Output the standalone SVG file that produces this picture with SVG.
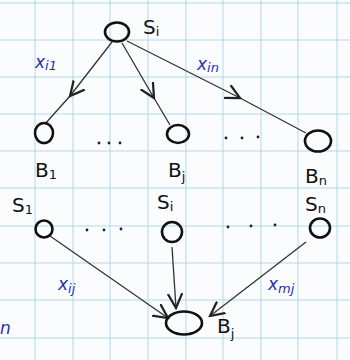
<svg xmlns="http://www.w3.org/2000/svg" width="350" height="360" viewBox="0 0 350 360">
<style>
.grid line{stroke:#b4d8ea;stroke-width:1}
.node{fill:none;stroke:#111;stroke-width:2.6}
.edge{fill:none;stroke:#333;stroke-width:1.3}
.lbl{font-family:"DejaVu Sans",sans-serif;font-size:20px;fill:#111}
.sub{font-size:13px}
.w{font-family:"DejaVu Sans",sans-serif;font-style:italic;font-size:17px;fill:#2a2fb0}
.dot{fill:#222}
</style>
<defs>
<marker id="ah" viewBox="0 0 10 10" refX="9" refY="5" markerWidth="16" markerHeight="16" markerUnits="userSpaceOnUse" orient="auto">
<path d="M0,0.5 L9,5 L0,9.5" fill="none" stroke="#222" stroke-width="1.4"/>
</marker>
</defs>
<rect width="350" height="360" fill="#fafcfd"/>
<g class="grid">
<line x1="35" y1="0" x2="35" y2="360"/><line x1="73" y1="0" x2="73" y2="360"/><line x1="110" y1="0" x2="110" y2="360"/><line x1="148" y1="0" x2="148" y2="360"/><line x1="186" y1="0" x2="186" y2="360"/><line x1="223" y1="0" x2="223" y2="360"/><line x1="261" y1="0" x2="261" y2="360"/><line x1="298" y1="0" x2="298" y2="360"/><line x1="337" y1="0" x2="337" y2="360"/>
<line x1="0" y1="3" x2="350" y2="3"/><line x1="0" y1="40" x2="350" y2="40"/><line x1="0" y1="77" x2="350" y2="77"/><line x1="0" y1="114" x2="350" y2="114"/><line x1="0" y1="151" x2="350" y2="151"/><line x1="0" y1="188" x2="350" y2="188"/><line x1="0" y1="226" x2="350" y2="226"/><line x1="0" y1="263" x2="350" y2="263"/><line x1="0" y1="300" x2="350" y2="300"/><line x1="0" y1="338" x2="350" y2="338"/>
</g>
<g id="connectors">
<polyline class="edge" points="112,42 70,96 45,124" marker-mid="url(#ah)"/>
<polyline class="edge" points="122,43 154,98 170,125" marker-mid="url(#ah)"/>
<polyline class="edge" points="127,41 240,98 306,133" marker-mid="url(#ah)"/>
<line class="edge" x1="50" y1="236" x2="168" y2="318" marker-end="url(#ah)"/>
<line class="edge" x1="172" y1="247" x2="176" y2="308" marker-end="url(#ah)"/>
<line class="edge" x1="306" y1="242" x2="210" y2="316" marker-end="url(#ah)"/>
<text class="w" x="35" y="68">x<tspan class="sub" dy="2">i1</tspan></text>
<text class="w" x="197" y="70">x<tspan class="sub" dy="2">in</tspan></text>
<text class="w" x="58" y="290">x<tspan class="sub" dy="3">ij</tspan></text>
<text class="w" x="268" y="290">x<tspan class="sub" dy="3">mj</tspan></text>
</g>
<g id="S_i_top"><ellipse class="node" cx="117" cy="32" rx="12" ry="9.5"/><text class="lbl" x="143" y="34">S<tspan class="sub" dy="2">i</tspan></text></g>
<g id="B_1"><ellipse class="node" cx="44" cy="133" rx="9" ry="10"/><text class="lbl" x="35" y="177">B<tspan class="sub" dy="2">1</tspan></text></g>
<g id="B_j"><ellipse class="node" cx="178" cy="134" rx="11" ry="9"/><text class="lbl" x="168" y="177">B<tspan class="sub" dy="4">j</tspan></text></g>
<g id="B_n"><ellipse class="node" cx="318" cy="141" rx="13" ry="10.5"/><text class="lbl" x="305" y="183">B<tspan class="sub" dy="2">n</tspan></text></g>
<g id="dotsB"><circle class="dot" cx="99" cy="143" r="1.4"/><circle class="dot" cx="109" cy="143" r="1.4"/><circle class="dot" cx="120" cy="143" r="1.4"/><circle class="dot" cx="226" cy="138" r="1.4"/><circle class="dot" cx="242" cy="138" r="1.4"/><circle class="dot" cx="258" cy="137" r="1.4"/></g>
<g id="S_1"><ellipse class="node" cx="44" cy="229" rx="8.5" ry="8.5"/><text class="lbl" x="12" y="212">S<tspan class="sub" dy="2">1</tspan></text></g>
<g id="S_i"><ellipse class="node" cx="172" cy="232" rx="10" ry="10"/><text class="lbl" x="157" y="209">S<tspan class="sub" dy="2">i</tspan></text></g>
<g id="S_n"><ellipse class="node" cx="320" cy="228" rx="10" ry="9.5"/><text class="lbl" x="305" y="211">S<tspan class="sub" dy="2">n</tspan></text></g>
<g id="dotsS"><circle class="dot" cx="87" cy="230" r="1.4"/><circle class="dot" cx="104" cy="230" r="1.4"/><circle class="dot" cx="121" cy="229" r="1.4"/><circle class="dot" cx="228" cy="227" r="1.4"/><circle class="dot" cx="251" cy="226" r="1.4"/><circle class="dot" cx="275" cy="225" r="1.4"/></g>
<g id="B_j_bottom"><ellipse class="node" cx="184" cy="323" rx="18" ry="11.5"/><text class="lbl" x="217" y="333">B<tspan class="sub" dy="5">j</tspan></text></g>
<text class="w" x="0" y="334">n</text>
</svg>
